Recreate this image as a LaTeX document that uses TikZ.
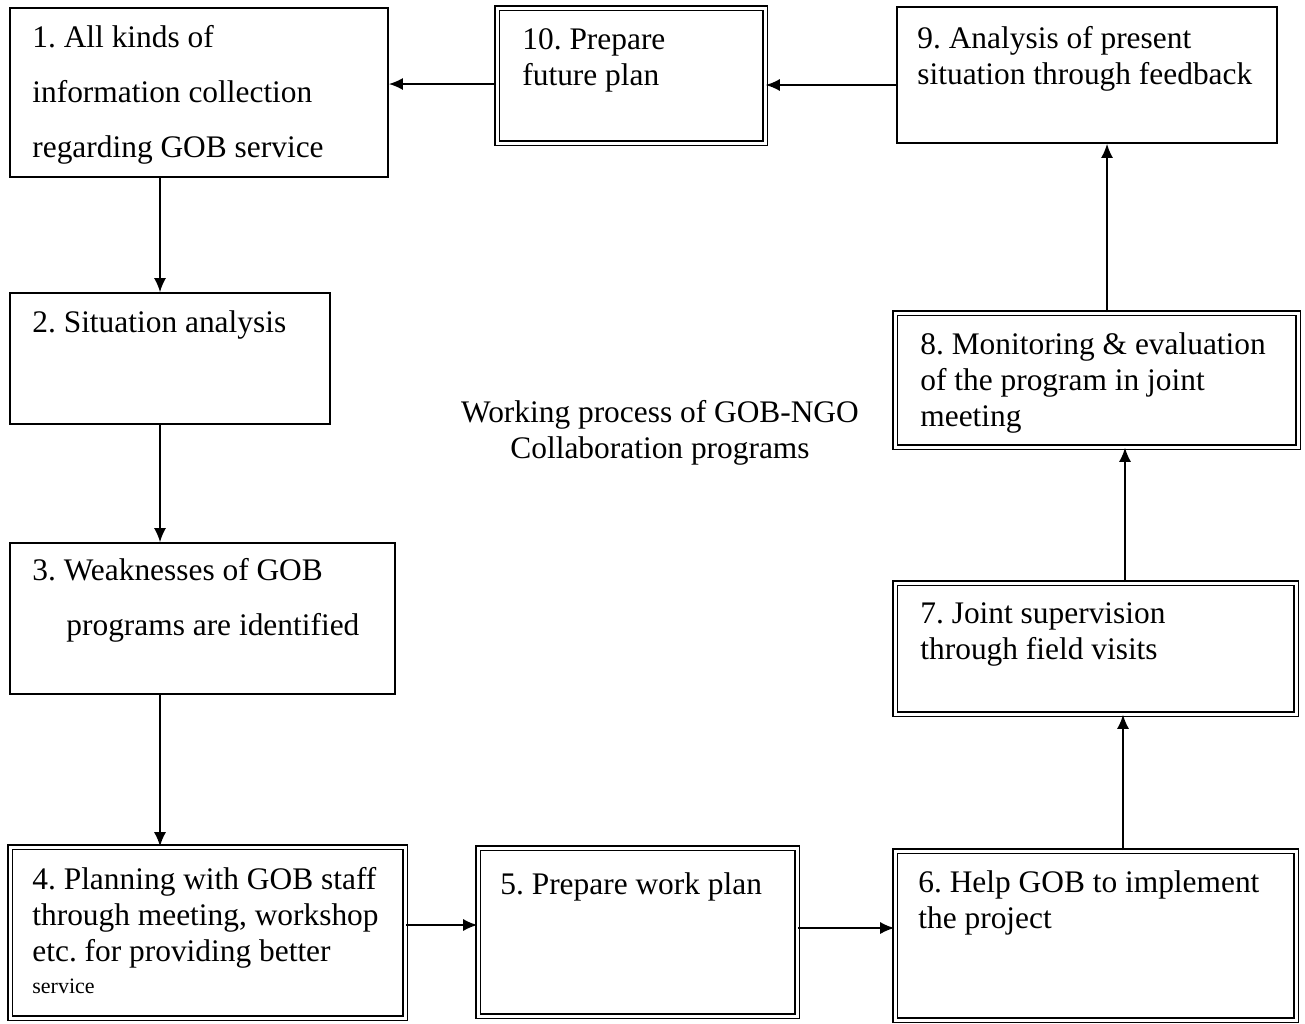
\documentclass[tikz,border=0pt]{standalone}
\usepackage{fontspec}
\setmainfont{Liberation Serif}
\usetikzlibrary{arrows.meta}
\frenchspacing

\tikzset{
  sbox/.style={draw, line width=0.9pt, inner sep=0pt},
  dbox/.style={draw, double, double distance=1.5pt, line width=0.8pt, inner sep=0pt},
  txt/.style={anchor=north west, inner sep=0pt, align=left, yshift=12pt,
    font=\fontsize{15.7}{18}\selectfont, execute at begin node={\rule{0pt}{12pt}}},
  txtwide/.style={txt, font=\fontsize{15.7}{27.5}\selectfont},
  arr/.style={line width=0.75pt, -{Latex[length=7pt,width=6pt]}},
}

\begin{document}
\begin{tikzpicture}[x=0.5pt,y=-0.5pt]
\useasboundingbox[fill=white] (0,0) rectangle (1305,1023);

% boxes
\node[sbox, minimum width=189pt,   minimum height=84.5pt] (b1)  at (199,92.5)    {};
\node[sbox, minimum width=160pt,   minimum height=65.5pt] (b2)  at (170,358.5)   {};
\node[sbox, minimum width=192.5pt, minimum height=75.5pt] (b3)  at (202.5,618.5) {};
\node[dbox, minimum width=197.5pt, minimum height=85.5pt] (b4)  at (207.5,932.5) {};
\node[dbox, minimum width=159.5pt, minimum height=84pt]   (b5)  at (637.5,932)   {};
\node[dbox, minimum width=200.5pt, minimum height=84.5pt] (b6)  at (1095.5,935.5){};
\node[dbox, minimum width=200.5pt, minimum height=65.5pt] (b7)  at (1095.5,648.5){};
\node[dbox, minimum width=201.5pt, minimum height=67pt]   (b8)  at (1096.5,380)  {};
\node[sbox, minimum width=190pt,   minimum height=68pt]   (b9)  at (1087,75)     {};
\node[dbox, minimum width=134pt,   minimum height=67.5pt] (b10) at (631,75.5)    {};

% texts
\node[txtwide] (t1) at (32,49) {1. All kinds of\\information collection\\regarding GOB service};
\node[txt] (t2) at (32,332) {2. Situation analysis};
\node[txtwide] (t3) at (32,582) {3. Weaknesses of GOB\\\hspace*{17pt}programs are identified};
\node[txt] (t4) at (32,891) {4. Planning with GOB staff\\through meeting, workshop\\etc. for providing better\\[-2pt]{\fontsize{11}{13}\selectfont service}};
\node[txt] (t5) at (500,894) {5. Prepare work plan};
\node[txt] (t6) at (918,894) {6. Help GOB to implement\\the project};
\node[txt] (t7) at (920,626) {7. Joint supervision\\through field visits};
\node[txt] (t8) at (920,356) {8. Monitoring \& evaluation\\of the program in joint\\meeting};
\node[txt] (t9) at (917,50) {9. Analysis of present\\situation through feedback};
\node[txt] (t10) at (522,52) {10. Prepare\\future plan};

\node[inner sep=0pt, align=center, anchor=base, font=\fontsize{15.7}{18}\selectfont]
  (title) at (660,458) {Working process of GOB-NGO\\Collaboration programs};

% connector lines
\coordinate (cL) at (160,0);
\coordinate (c45) at (0,925);
\coordinate (c56) at (0,928);
\coordinate (c67) at (1123,0);
\coordinate (c78) at (1125,0);
\coordinate (c89) at (1107,0);
\coordinate (c910) at (0,85);
\coordinate (c101) at (0,84);

\draw[arr] (b1.south -| cL) -- (b2.north -| cL);
\draw[arr] (b2.south -| cL) -- (b3.north -| cL);
\draw[arr] (b3.south -| cL) -- (b4.north -| cL);
\draw[arr] (b4.east |- c45) -- (b5.west |- c45);
\draw[arr] (b5.east |- c56) -- (b6.west |- c56);
\draw[arr] (b6.north -| c67) -- (b7.south -| c67);
\draw[arr] (b7.north -| c78) -- (b8.south -| c78);
\draw[arr] (b8.north -| c89) -- (b9.south -| c89);
\draw[arr] (b9.west |- c910) -- (b10.east |- c910);
\draw[arr] (b10.west |- c101) -- (b1.east |- c101);
\end{tikzpicture}
\end{document}
